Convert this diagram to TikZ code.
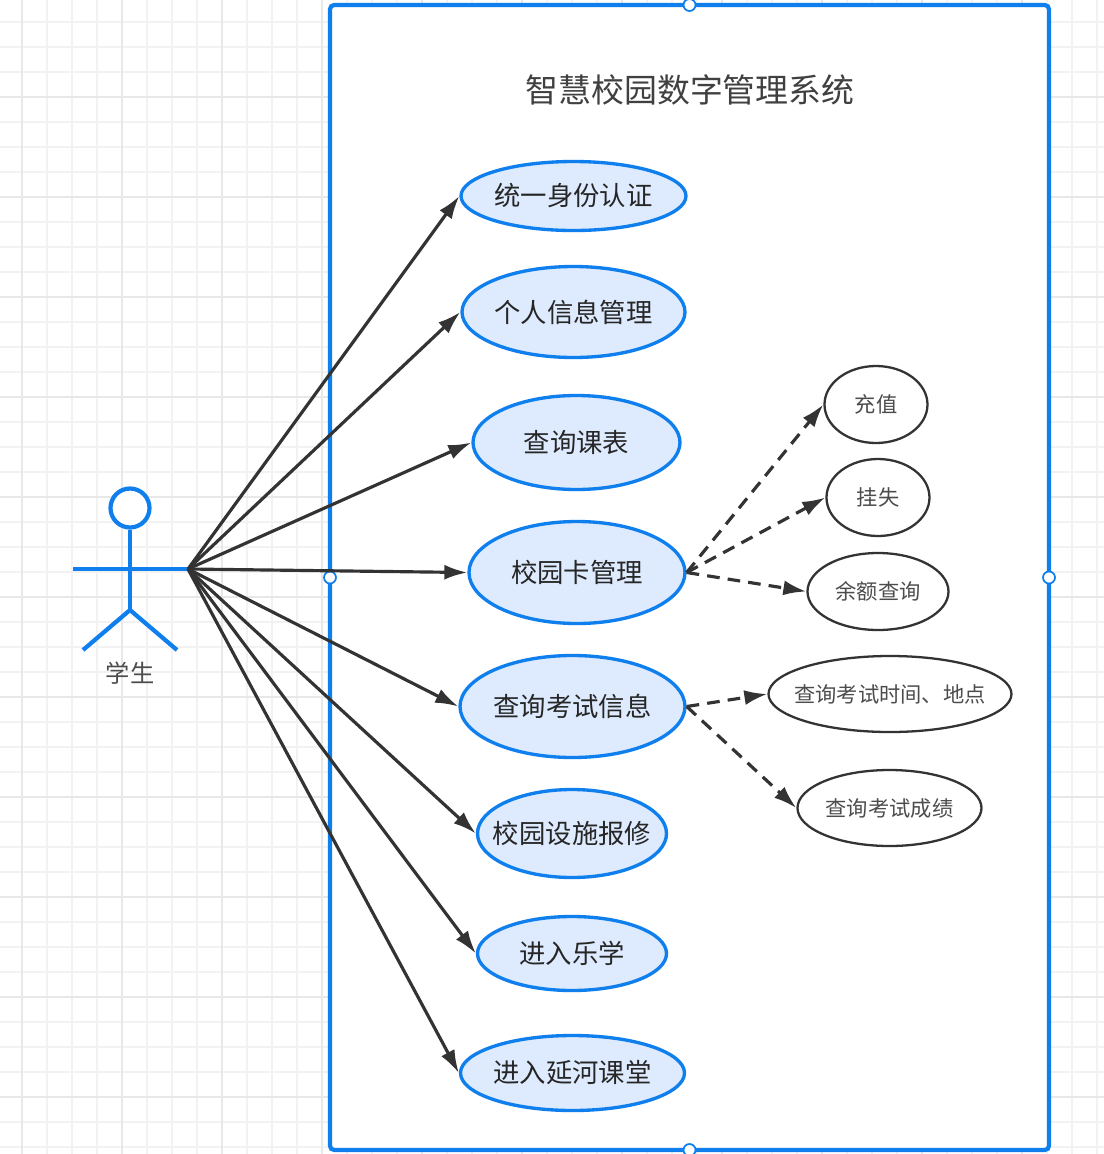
\documentclass[tikz,border=0pt]{standalone}
\usepackage{xcolor}
\usepackage{fontspec}
\setmainfont{Noto Sans CJK SC}
\usetikzlibrary{shapes.geometric, arrows.meta, positioning}
\definecolor{umlblue}{HTML}{0F7FEE}
\definecolor{umlfill}{HTML}{DEEAFD}
\definecolor{umldark}{HTML}{333333}
\begin{document}
\begin{tikzpicture}[
    usecase/.style={ellipse, draw=umlblue, fill=umlfill, line width=0.95pt, inner xsep=-0.15cm, inner ysep=0pt, text=black!85, font=\fontsize{7.5}{9}\selectfont},
    subcase/.style={ellipse, draw=umldark, fill=white, line width=0.65pt, inner xsep=-0.15cm, inner ysep=0pt, text=black!70, font=\fontsize{6.05}{8}\selectfont},
    handle/.style={circle, draw=umlblue, fill=white, line width=0.5pt, minimum size=0.12cm, inner sep=0pt},
    limb/.style={draw=umlblue, line width=1.2pt},
    arrow/.style={-{Latex[length=2.3mm, width=1.5mm]}, line width=0.9pt, draw=umldark},
    dasharrow/.style={-{Latex[length=2.3mm, width=1.5mm]}, line width=0.9pt, draw=umldark, dash pattern=on 3.6pt off 2.3pt}
  ]
    \useasboundingbox (0, -11.54) rectangle (11.04, 0);

    % Background grid
    \begin{scope}
      \clip (0, -11.54) rectangle (11.04, 0);
      \begin{scope}[shift={(0.22, 0.03)}]
        \draw[black!5, line width=0.4pt, step=0.25] (-1, -12) grid (11, 1);
        \draw[black!9, line width=0.55pt, step=1] (-1, -12) grid (11, 1);
      \end{scope}
    \end{scope}

    % System boundary
    \node[rectangle, rounded corners=1.2pt, draw=umlblue, fill=white, line width=1.2pt, outer sep=0pt, minimum width=7.19cm, minimum height=11.45cm, inner sep=0pt] (system) at (6.895, -5.775) {};
    \node[handle] (h_top) at (system.north) {};
    \node[handle] (h_left) at (system.west) {};
    \node[handle] (h_right) at (system.east) {};
    \node[handle] (h_bottom) at (system.south) {};
    \node[text=black!75, font=\fontsize{9.36}{11}\selectfont] (title) at (6.9, -0.9) {智慧校园数字管理系统};

    % Actor
    \node[circle, draw=umlblue, fill=white, line width=1.2pt, minimum size=0.39cm, inner sep=0pt] (head) at (1.30, -5.08) {};
    \coordinate (neck) at (1.30, -5.69);
    \coordinate (hip) at (1.30, -6.10);
    \coordinate (arm_l) at (0.73, -5.69);
    \coordinate (hand) at (1.88, -5.69);
    \coordinate (foot_l) at (0.83, -6.50);
    \coordinate (foot_r) at (1.77, -6.50);
    \draw[limb] (head) -- (hip);
    \draw[limb] (arm_l) -- (hand);
    \draw[limb] (foot_l) -- (hip) -- (foot_r);
    \node[text=black!70, font=\fontsize{6.9}{8}\selectfont] (student) at (1.30, -6.73) {学生};

    % Use cases
    \node[usecase, minimum width=2.25cm, minimum height=0.69cm] (auth) at (5.735, -1.96) {统一身份认证};
    \node[usecase, minimum width=2.23cm, minimum height=0.91cm] (info) at (5.735, -3.12) {个人信息管理};
    \node[usecase, minimum width=2.07cm, minimum height=0.94cm] (timetable) at (5.765, -4.425) {查询课表};
    \node[usecase, minimum width=2.16cm, minimum height=1.02cm] (card) at (5.77, -5.725) {校园卡管理};
    \node[usecase, minimum width=2.25cm, minimum height=1.02cm] (exam) at (5.725, -7.065) {查询考试信息};
    \node[usecase, minimum width=1.89cm, minimum height=0.88cm] (repair) at (5.72, -8.335) {校园设施报修};
    \node[usecase, minimum width=1.89cm, minimum height=0.74cm] (lexue) at (5.72, -9.535) {进入乐学};
    \node[usecase, minimum width=2.24cm, minimum height=0.75cm] (classroom) at (5.725, -10.73) {进入延河课堂};

    % Sub cases
    \node[subcase, minimum width=1.03cm, minimum height=0.77cm] (recharge) at (8.76, -4.045) {充值};
    \node[subcase, minimum width=1.03cm, minimum height=0.77cm] (lost) at (8.78, -4.975) {挂失};
    \node[subcase, minimum width=1.41cm, minimum height=0.77cm] (balance) at (8.78, -5.915) {余额查询};
    \node[subcase, minimum width=2.43cm, minimum height=0.76cm] (examtime) at (8.90, -6.94) {查询考试时间、地点};
    \node[subcase, minimum width=1.84cm, minimum height=0.76cm] (examscore) at (8.895, -8.08) {查询考试成绩};

    % Student to use cases
    \draw[arrow] (hand) -- (auth.west);
    \draw[arrow] (hand) -- (info.west);
    \draw[arrow] (hand) -- (timetable.west);
    \draw[arrow] (hand) -- (card.west);
    \draw[arrow] (hand) -- (exam.west);
    \draw[arrow] (hand) -- (repair.west);
    \draw[arrow] (hand) -- (lexue.west);
    \draw[arrow] (hand) -- (classroom.west);

    % Extensions
    \draw[dasharrow] (card.east) -- (recharge.west);
    \draw[dasharrow] (card.east) -- (lost.west);
    \draw[dasharrow] (card.east) -- (balance.west);
    \draw[dasharrow] (exam.east) -- (examtime.west);
    \draw[dasharrow] (exam.east) -- (examscore.west);

  \end{tikzpicture}
\end{document}
